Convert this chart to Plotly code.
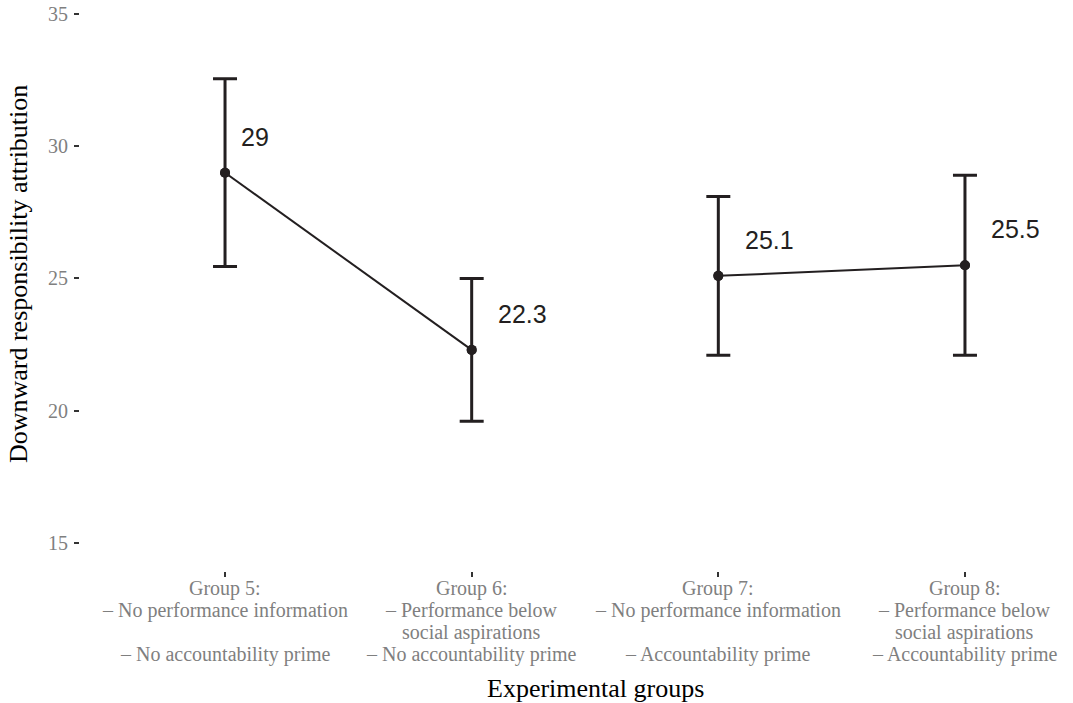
import plotly.graph_objects as go

# ---- data ----
group_pos = [1, 2, 3, 4]
means = [29.0, 22.3, 25.1, 25.5]
ci = [3.55, 2.7, 3.0, 3.4]
value_labels = ["29", "22.3", "25.1", "25.5"]
pairs = [[0, 1], [2, 3]]  # points joined by a line
tick_lines = [
    ["Group 5:", "– No performance information", "", "– No accountability prime"],
    ["Group 6:", "– Performance below", "social aspirations", "– No accountability prime"],
    ["Group 7:", "– No performance information", "", "– Accountability prime"],
    ["Group 8:", "– Performance below", "social aspirations", "– Accountability prime"],
]
y_ticks = [15, 20, 25, 30, 35]
x_title = "Experimental groups"
y_title = "Downward responsibility attribution"

INK = "#231f20"
GREY = "#7f7f7f"
SERIF = "Liberation Serif, Times New Roman, serif"
SANS = "Liberation Sans, Arial, sans-serif"

fig = go.Figure()

# error bars
fig.add_trace(go.Scatter(
    x=group_pos, y=means, mode="markers",
    marker=dict(size=10, color=INK),
    error_y=dict(type="data", array=ci, visible=True, color=INK, thickness=3, width=12),
    showlegend=False, hoverinfo="skip",
))
# connecting lines
for p in pairs:
    fig.add_trace(go.Scatter(
        x=[group_pos[i] for i in p], y=[means[i] for i in p], mode="lines+markers",
        line=dict(color=INK, width=2), marker=dict(size=10, color=INK),
        showlegend=False, hoverinfo="skip",
    ))

annotations = []

def text_width(s, fs):
    w = 0
    for ch in s:
        w += 0.278 if ch == "." else 0.556
    return w * fs

LABEL_FS = 25
for xp, m, lab in zip(group_pos, means, value_labels):
    annotations.append(dict(
        x=xp, y=m, xref="x", yref="y", text=lab, showarrow=False,
        xanchor="left", yanchor="middle",
        xshift=0.5 * text_width(lab, LABEL_FS), yshift=36,
        font=dict(family=SANS, size=LABEL_FS, color=INK),
    ))

# multi-line category labels
for xp, lines in zip(group_pos, tick_lines):
    for i, ln in enumerate(lines):
        if not ln:
            continue
        annotations.append(dict(
            x=xp, y=0, xref="x", yref="paper", text=ln, showarrow=False,
            xanchor="center", yanchor="middle", yshift=-(17 + 22 * i),
            font=dict(family=SERIF, size=20, color=GREY),
        ))

# axis titles (x title centred on the full ggplot-style panel, x = 2.5)
annotations.append(dict(
    x=2.5, y=0, xref="x", yref="paper", text=x_title, showarrow=False,
    xanchor="center", yanchor="middle", yshift=-117,
    font=dict(family=SERIF, size=26, color="black"),
))
annotations.append(dict(
    x=0, y=0.52, xref="paper", yref="paper", text=y_title, showarrow=False,
    xanchor="center", yanchor="middle", xshift=-62, textangle=-90,
    font=dict(family=SERIF, size=26, color="black"),
))

fig.update_layout(
    width=1073, height=703,
    margin=dict(l=80, r=0, t=0, b=132),
    paper_bgcolor="white", plot_bgcolor="white",
    annotations=annotations,
    xaxis=dict(
        range=[0.412, 4.438], tickvals=group_pos, showticklabels=False,
        ticks="outside", ticklen=5, tickwidth=1.5, tickcolor="#333333",
        showgrid=False, zeroline=False, showline=False,
    ),
    yaxis=dict(
        range=[13.94, 35.53], tickvals=y_ticks, ticks="outside", ticklen=5,
        tickwidth=1.5, tickcolor="#333333", ticklabelstandoff=2,
        tickfont=dict(family=SERIF, size=20, color=GREY),
        showgrid=False, zeroline=False, showline=False,
    ),
)

fig.write_html(
    "out.html",
    config={"displayModeBar": False},
    post_script="document.body.style.margin='0';document.body.style.overflow='hidden';",
)
